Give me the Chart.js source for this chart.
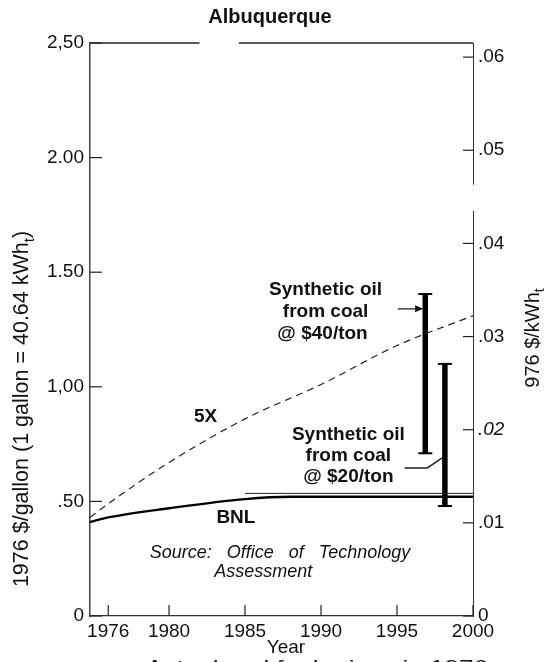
<!DOCTYPE html>
<html>
<head>
<meta charset="utf-8">
<script src="https://cdn.jsdelivr.net/npm/chart.js@4.4.0/dist/chart.umd.min.js"></script>
<style>
  html, body { margin: 0; padding: 0; background: #fff; }
  #wrap { width: 546px; height: 662px; }
</style>
</head>
<body>
<div id="wrap"><canvas id="fuelChart" width="546" height="662"></canvas></div>
<script>
const CHART = document.getElementById('fuelChart')
const FONT = "'Liberation Sans', Arial, sans-serif"
const GALLON_KWH = 40.64

// axis ticks
const yearTicks = [1976, 1980, 1985, 1990, 1995, 2000]
const gallonTicks = [0, 0.5, 1.0, 1.5, 2.0, 2.5]
const gallonLabels = ['0', '.50', '1,00', '1.50', '2.00', '2,50']
const kwhTicks = [0, 0.01, 0.02, 0.03, 0.04, 0.05, 0.06]
const kwhLabels = ['0', '.01', '.02', '.03', '.04', '.05', '.06']

// 5X escalation (dashed)
const years5X = [1974.8, 1976, 1980, 1985, 1990, 1995, 2000]
const price5X = [0.43, 0.49, 0.67, 0.86, 1.01, 1.18, 1.31]

// BNL projection (solid) and the thin parallel line beside it
const yearsBNL = [1974.8, 1976, 1980, 1985, 1988, 1990, 2000]
const priceBNL = [0.41, 0.43, 0.47, 0.51, 0.52, 0.52, 0.52]
const yearsBNLUpper = [1985, 2000]
const priceBNLUpper = [0.535, 0.535]

// synthetic oil from coal, ranges
const synthNames = ['$40/ton', '$20/ton']
const synthYears = [1996.86, 1998.15]
const synthLow = [0.71, 0.48]
const synthHigh = [1.405, 1.10]

const pts = (xs, ys) => xs.map((x, i) => ({x: x, y: ys[i]}))

const rangeSets = synthNames.map((name, i) => ({
    label: 'Synthetic oil ' + name,
    data: [{x: synthYears[i], y: synthLow[i]}, {x: synthYears[i], y: synthHigh[i]}],
    borderColor: '#000',
    borderWidth: 5.5,
    pointStyle: 'line',
    pointRadius: 7,
    pointBorderWidth: 2,
    pointBorderColor: '#000',
    fill: false
}))

function line(ctx, pts, width) {
    ctx.beginPath()
    ctx.lineWidth = width
    ctx.moveTo(pts[0][0], pts[0][1])
    for (let i = 1; i < pts.length; i++) ctx.lineTo(pts[i][0], pts[i][1])
    ctx.stroke()
}

// label with subscript t, drawn rotated (reads bottom to top)
function rotatedLabel(ctx, cx, cy, before, sub, after, size) {
    ctx.save()
    ctx.translate(cx, cy)
    ctx.rotate(-Math.PI / 2)
    ctx.font = size + 'px ' + FONT
    const w1 = ctx.measureText(before).width
    const w3 = ctx.measureText(after).width
    ctx.font = Math.round(size * 0.7) + 'px ' + FONT
    const w2 = ctx.measureText(sub).width
    let x0 = -(w1 + w2 + w3) / 2
    ctx.textBaseline = 'middle'
    ctx.textAlign = 'left'
    ctx.font = size + 'px ' + FONT
    ctx.fillText(before, x0, 0)
    ctx.font = Math.round(size * 0.7) + 'px ' + FONT
    ctx.fillText(sub, x0 + w1, size * 0.35)
    ctx.font = size + 'px ' + FONT
    ctx.fillText(after, x0 + w1 + w2, 0)
    ctx.restore()
}

const paperPlugin = {
    id: 'paper',
    afterDraw(chart) {
        const ctx = chart.ctx
        const a = chart.chartArea
        const xs = chart.scales.x, ys = chart.scales.y, ks = chart.scales.y1
        const px = v => xs.getPixelForValue(v)
        const py = v => ys.getPixelForValue(v)
        ctx.save()
        ctx.strokeStyle = '#222'
        ctx.fillStyle = '#111'

        // break in the right axis line, as on the scan
        ctx.fillStyle = '#fff'
        ctx.fillRect(a.right - 2, ks.getPixelForValue(0.0463), 4, ks.getPixelForValue(0.0435) - ks.getPixelForValue(0.0463))
        ctx.fillStyle = '#111'

        // inward ticks
        yearTicks.forEach(t => line(ctx, [[px(t), a.bottom], [px(t), a.bottom - 11]], 1.2))
        gallonTicks.forEach(t => line(ctx, [[a.left, py(t)], [a.left + 12, py(t)]], 1.2))
        kwhTicks.forEach(t => line(ctx, [[a.right, ks.getPixelForValue(t)], [a.right - 10, ks.getPixelForValue(t)]], 1.2))

        // top frame, with the gap of the original
        line(ctx, [[a.left, a.top], [px(1982.0), a.top]], 1.4)
        line(ctx, [[px(1984.6), a.top], [a.right, a.top]], 1.4)

        // title
        ctx.textAlign = 'center'
        ctx.textBaseline = 'middle'
        ctx.font = 'bold 20px ' + FONT
        ctx.fillText('Albuquerque', 270, 17)

        // axis titles
        ctx.font = '19px ' + FONT
        ctx.fillText('Year', 286, 648)
        rotatedLabel(ctx, 22, 409, '1976 $/gallon (1 gallon = 40.64 kWh', 't', ')', 21.5)
        rotatedLabel(ctx, 533, 338, '976 $/kWh', 't', '', 20)

        // bottom note, cut off by the page edge
        ctx.save()
        ctx.textAlign = 'left'
        ctx.textBaseline = 'alphabetic'
        ctx.font = '19px ' + FONT
        const note = 'Actual real fuel prices in 1976'
        const nw = ctx.measureText(note).width
        ctx.translate(146, 673)
        ctx.scale(342 / nw, 1)
        ctx.fillText(note, 0, 0)
        ctx.restore()

        // series names
        ctx.font = 'bold 19px ' + FONT
        ctx.textBaseline = 'middle'
        ctx.fillText('5X', px(1982.4), py(0.87))
        ctx.fillText('BNL', px(1984.4), py(0.43))
        ctx.fillText('Synthetic oil', px(1990.3), py(1.422))
        ctx.fillText('from coal', px(1990.3), py(1.326))
        ctx.fillText('@ ' + synthNames[0], px(1990.1), py(1.23))
        ctx.fillText('Synthetic oil', px(1991.8), py(0.79))
        ctx.fillText('from coal', px(1991.8), py(0.698))
        ctx.fillText('@ ' + synthNames[1], px(1991.8), py(0.606))

        // source note
        ctx.font = 'italic 18px ' + FONT
        ctx.fillText('Source:   Office   of   Technology', px(1987.3), py(0.275))
        ctx.fillText('Assessment', px(1986.2), py(0.19))

        // arrow to the $40 bar
        const ay = py(1.34)
        line(ctx, [[px(1995.05), ay], [px(1996.62), ay]], 1.3)
        ctx.beginPath()
        ctx.moveTo(px(1996.72), ay)
        ctx.lineTo(px(1996.72) - 8, ay - 3.5)
        ctx.lineTo(px(1996.72) - 8, ay + 3.5)
        ctx.closePath()
        ctx.fill()

        // leader to the $20 bar
        line(ctx, [[px(1995.5), py(0.646)], [px(1997.0), py(0.646)], [px(1997.97), py(0.69)]], 1.4)
        ctx.restore()
    }
}

new Chart(CHART, {
    type: 'line',
    data: {
        datasets: [
            {
                label: '5X',
                data: pts(years5X, price5X),
                borderColor: '#222',
                borderWidth: 1.2,
                borderDash: [7, 5],
                cubicInterpolationMode: 'monotone',
                pointRadius: 0,
                fill: false
            },
            {
                label: 'BNL',
                data: pts(yearsBNL, priceBNL),
                borderColor: '#000',
                borderWidth: 2.4,
                cubicInterpolationMode: 'monotone',
                pointRadius: 0,
                fill: false
            },
            {
                label: 'BNL upper',
                data: pts(yearsBNLUpper, priceBNLUpper),
                borderColor: '#222',
                borderWidth: 1,
                pointRadius: 0,
                fill: false
            },
            ...rangeSets
        ]
    },
    options: {
        responsive: false,
        animation: false,
        layout: { padding: { top: 43, left: 0, right: 0, bottom: 0 } },
        plugins: { legend: { display: false }, tooltip: { enabled: false } },
        scales: {
            x: {
                type: 'linear',
                min: 1974.8,
                max: 2000,
                afterBuildTicks: s => { s.ticks = yearTicks.map(v => ({value: v})) },
                afterFit: s => { s.height = 46 },
                grid: { display: true, drawOnChartArea: false, drawTicks: false },
                border: { display: true, color: '#333', width: 1.2 },
                ticks: {
                    color: '#111',
                    padding: 4,
                    autoSkip: false,
                    maxRotation: 0,
                    font: { family: FONT, size: 19 },
                    callback: v => String(v)
                }
            },
            y: {
                type: 'linear',
                position: 'left',
                min: 0,
                max: 2.5,
                afterBuildTicks: s => { s.ticks = gallonTicks.map(v => ({value: v})) },
                afterFit: s => { s.width = 90 },
                grid: { display: true, drawOnChartArea: false, drawTicks: false },
                border: { display: true, color: '#444', width: 1.5 },
                ticks: {
                    color: '#111',
                    padding: 6,
                    font: { family: FONT, size: 19 },
                    callback: v => gallonLabels[gallonTicks.indexOf(v)]
                }
            },
            y1: {
                type: 'linear',
                position: 'right',
                min: 0,
                max: 2.5 / GALLON_KWH,
                afterBuildTicks: s => { s.ticks = kwhTicks.map(v => ({value: v})) },
                afterFit: s => { s.width = 73 },
                grid: { display: true, drawOnChartArea: false, drawTicks: false },
                border: { display: true, color: '#333', width: 1 },
                ticks: {
                    color: '#111',
                    padding: 5,
                    font: c => ({ family: FONT, size: 19, style: c.tick && c.tick.value === 0.02 ? 'italic' : 'normal' }),
                    callback: v => kwhLabels[kwhTicks.indexOf(v)]
                }
            }
        }
    },
    plugins: [paperPlugin]
})
</script>
</body>
</html>
